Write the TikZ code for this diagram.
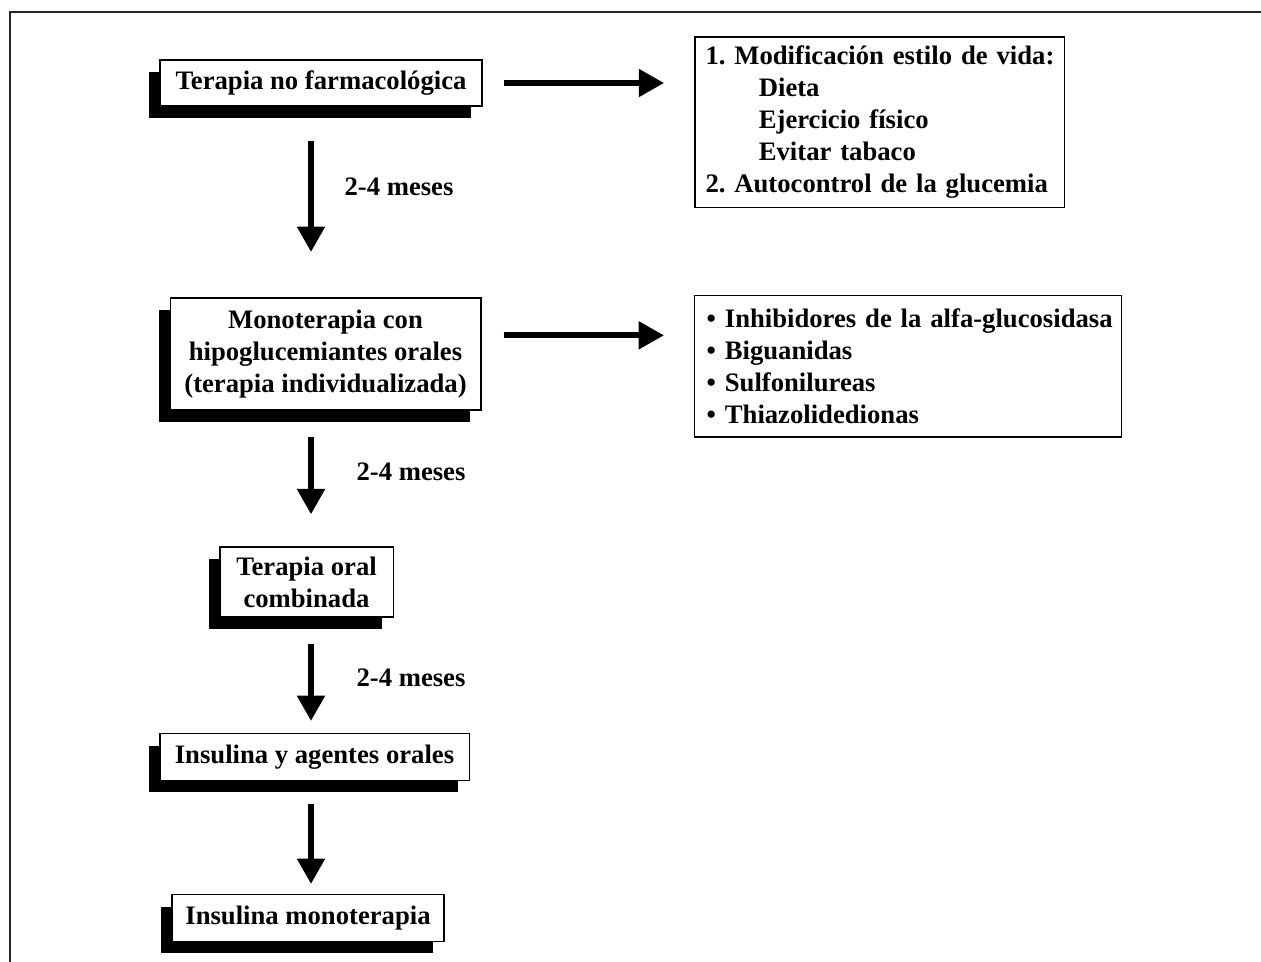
\documentclass[tikz,border=0pt]{standalone}
\usepackage{fontspec}
\setmainfont{Liberation Serif}
\frenchspacing
\usetikzlibrary{arrows.meta,shadows}

\tikzset{
  txt/.style={font=\fontsize{20}{24}\selectfont\bfseries},
  stepbox/.style={txt, draw, fill=white, line width=1pt, align=center, inner sep=0pt,
    general shadow={fill=black, shadow xshift=-8.5pt, shadow yshift=-9pt}},
  listbox/.style={txt, draw, line width=1pt, align=left, inner ysep=0pt},
  bigarrow/.style={line width=4.5pt, -{Triangle[length=19pt,width=20pt]}}
}

\begin{document}
\begin{tikzpicture}[x=0.75pt,y=-0.75pt]
  \useasboundingbox (0,0) rectangle (1261,962);
  \draw[line width=1.1pt, black!85] (10,962) -- (10,12) -- (1261,12);

  % steps
  \node[stepbox, minimum width=241.5pt, minimum height=34.5pt] (nofarm) at (321,83) {Terapia no farmacológica};
  \node[stepbox, minimum width=233pt, minimum height=84pt] (mono) at (325.5,354) {Monoterapia con\\hipoglucemiantes orales\\(terapia individualizada)};
  \node[stepbox, minimum width=130pt, minimum height=52.5pt] (comb) at (306.5,582) {Terapia oral\\combinada};
  \node[stepbox, minimum width=232pt, minimum height=35pt] (insag) at (314.5,757) {Insulina y agentes orales};
  \node[stepbox, minimum width=204pt, minimum height=35pt] (insmono) at (308,918) {Insulina monoterapia};

  % lists
  \node[listbox, inner xsep=8pt, text width=261pt, minimum height=128pt] (vida) at (879.5,122.5)
    {\mbox{1. Modificación estilo de vida:}\\
     \hspace*{40pt}Dieta\\
     \hspace*{40pt}Ejercicio físico\\
     \hspace*{40pt}Evitar tabaco\\
     \mbox{2. Autocontrol de la glucemia}};
  \node[listbox, inner xsep=9pt, text width=302pt, minimum height=106pt] (orales) at (908,366.5)
    {\mbox{• Inhibidores de la alfa-glucosidasa}\\
     • Biguanidas\\
     • Sulfonilureas\\
     • Thiazolidedionas};

  % arrows
  \coordinate (col) at (311,0);
  \draw[bigarrow, shorten <=16pt, shorten >=22.5pt] (nofarm.east) -- (nofarm.east -| vida.west);
  \draw[bigarrow, shorten <=16.5pt, shorten >=22.5pt] ([yshift=14pt]mono.east) -- ([yshift=14pt]mono.east -| orales.west);
  \draw[bigarrow, shorten <=25.5pt, shorten >=34pt] (nofarm.south -| col) -- (mono.north -| col);
  \draw[bigarrow, shorten <=19.5pt, shorten >=24pt] (mono.south -| col) -- (comb.north -| col);
  \draw[bigarrow, shorten <=19.5pt, shorten >=9pt] (comb.south -| col) -- (insag.north -| col);
  \draw[bigarrow, shorten <=17pt, shorten >=7.5pt] (insag.south -| col) -- (insmono.north -| col);

  \node[txt] (t1) at (399,187) {2-4 meses};
  \node[txt] (t2) at (411,472) {2-4 meses};
  \node[txt] (t3) at (411,678) {2-4 meses};
\end{tikzpicture}
\end{document}
